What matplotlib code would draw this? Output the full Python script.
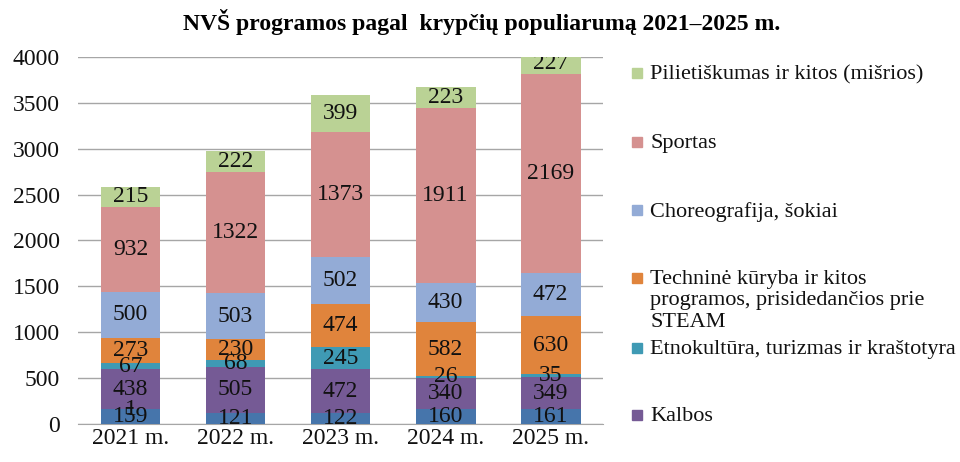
import matplotlib
matplotlib.use("Agg")
import matplotlib.pyplot as plt
from matplotlib.patches import Rectangle
import numpy as np

plt.rcParams['font.family'] = ['Liberation Serif', 'DejaVu Serif']

years = ["2021 m.", "2022 m.", "2023 m.", "2024 m.", "2025 m."]

# stacked bottom -> top
bottom_blue = [159, 121, 122, 160, 161]
tiny = [1, 0, 0, 0, 0]
kalbos = [438, 505, 472, 340, 349]
etno = [67, 68, 245, 26, 35]
technine = [273, 230, 474, 582, 630]
choreo = [500, 503, 502, 430, 472]
sportas = [932, 1322, 1373, 1911, 2169]
pilietiskumas = [215, 222, 399, 223, 227]

series = [
    (None, bottom_blue, "#4675AB"),
    (None, tiny, "#B64B48"),
    ("Kalbos", kalbos, "#755A95"),
    ("Etnokultūra, turizmas ir kraštotyra", etno, "#3F9AB4"),
    ("Techninė kūryba ir kitos\nprogramos, prisidedančios prie\nSTEAM", technine, "#E0843C"),
    ("Choreografija, šokiai", choreo, "#93ABD6"),
    ("Sportas", sportas, "#D59190"),
    ("Pilietiškumas ir kitos (mišrios)", pilietiskumas, "#BAD295"),
]

FS = 17

fig = plt.figure(figsize=(9.6, 4.62), dpi=100)
ax = fig.add_axes([0.08125, 0.0823, 0.547, 0.7943])

x = np.arange(len(years))
base = np.zeros(len(years))
for name, vals, col in series:
    vals = np.array(vals, dtype=float)
    ax.bar(x, vals, width=0.57, bottom=base, color=col, zorder=3)
    for xi, b, v in zip(x, base, vals):
        if v > 0:
            ax.text(xi, b + v / 2, f"{int(v)}", ha="center", va="center",
                    fontsize=FS, color="#111111", zorder=5, clip_on=True)
    base += vals

ax.set_xlim(-0.5, len(years) - 0.5)
ax.set_ylim(0, 4000)
ax.set_yticks(np.arange(0, 4001, 500))
ax.yaxis.grid(True, color="#A6A6A6", linewidth=1.0, zorder=0)
ax.set_axisbelow(True)
for s in ["top", "right", "left"]:
    ax.spines[s].set_visible(False)
ax.spines["bottom"].set_color("#A6A6A6")
ax.tick_params(axis="both", length=0, labelsize=FS, colors="#111111")
ax.tick_params(axis="y", pad=13)
ax.tick_params(axis="x", pad=3)
ax.set_xticks(x)
ax.set_xticklabels(years)

fig.text(0.502, 0.952, "NVŠ programos pagal  krypčių populiarumą 2021–2025 m.",
         ha="center", va="center", fontsize=17, fontweight="bold")

# legend (manual, to match layout)
legend_y = [73, 142, 210, 278, 348, 415]
legend_items = [s for s in series if s[0] is not None][::-1]
for (name, vals, col), ypx in zip(legend_items, legend_y):
    yf = 1 - ypx / 462
    fig.patches.append(Rectangle((632 / 960, yf - 5 / 462), 10 / 960, 10 / 462,
                                 transform=fig.transFigure, color=col))
    fig.text(650 / 960, yf + 8 / 462, name, ha="left", va="top", fontsize=16,
             linespacing=1.17, color="#111111")

fig.savefig("out.png", dpi=100)
